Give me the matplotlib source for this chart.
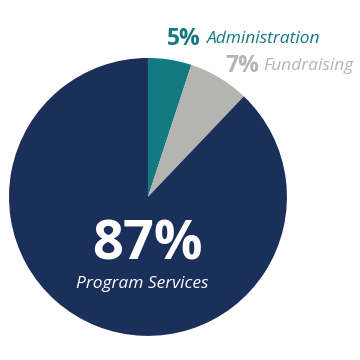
import matplotlib.pyplot as plt

# slice data, clockwise from the top
labels = ["Administration", "Fundraising", "Program Services"]
values = [5, 7, 87]
colors = ["#137a82", "#b4b5b1", "#1b2f5b"]

fig = plt.figure(figsize=(3.6, 3.6), dpi=100)
ax = fig.add_axes([0.025, 0.067, 0.772, 0.772])
ax.pie(values, colors=colors, startangle=90, counterclock=False,
       wedgeprops=dict(linewidth=0))
ax.set_xlim(-1, 1)
ax.set_ylim(-1, 1)
ax.set_aspect("equal")

# outside labels for the small slices
fig.text(0.463, 0.893, f"{values[0]}%", color=colors[0], fontsize=16.5,
         fontweight="bold", family="Open Sans", va="center", ha="left")
fig.text(0.574, 0.893, labels[0], color=colors[0], fontsize=12.5,
         style="italic", family="Open Sans", va="center", ha="left")
fig.text(0.626, 0.817, f"{values[1]}%", color=colors[1], fontsize=16.5,
         fontweight="bold", family="Open Sans", va="center", ha="left")
fig.text(0.730, 0.817, labels[1], color=colors[1], fontsize=12.5,
         style="italic", family="Open Sans", va="center", ha="left")

# big label inside the main slice
fig.text(0.409, 0.318, f"{values[2]}%", color="white", fontsize=39,
         fontweight="bold", family="Open Sans", va="center", ha="center")
fig.text(0.395, 0.212, labels[2], color="white", fontsize=12.5,
         style="italic", family="Open Sans", va="center", ha="center")

fig.savefig("out.png", dpi=100)
